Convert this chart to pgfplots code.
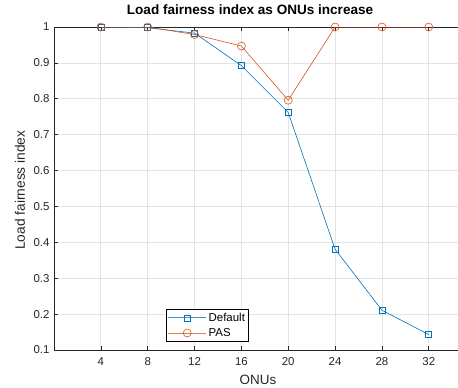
\documentclass[border=0pt]{standalone}
\usepackage{pgfplots}
\pgfplotsset{compat=1.18}
\usepackage{fontspec}
\setmainfont{Liberation Sans}
\definecolor{mblue}{rgb}{0,0.447,0.741}
\definecolor{morange}{rgb}{0.851,0.325,0.098}
\definecolor{axgray}{rgb}{0.15,0.15,0.15}
\begin{document}
\begin{tikzpicture}
\begin{axis}[
  at={(0,0)}, anchor=south west,
  scale only axis,
  width=421.6bp, height=323bp,
  xmin=0, xmax=36, ymin=0.1, ymax=1,
  xtick={4,8,12,16,20,24,28,32},
  ytick={0.1,0.2,0.3,0.4,0.5,0.6,0.7,0.8,0.9,1},
  yticklabels={0.1,0.2,0.3,0.4,0.5,0.6,0.7,0.8,0.9,1},
  /pgf/number format/assume math mode=true,
  tick label style={font=\fontsize{11.5}{13}\selectfont, text=axgray},
  xticklabel style={yshift=-4bp},
  yticklabel style={xshift=-1bp},
  tick align=inside, major tick length=4bp,
  tick style={axgray, line width=0.6bp},
  axis line style={axgray, line width=0.7bp},
  grid=major,
  major grid style={gray!22, line width=0.7bp},
  title={\bfseries Load fairness index as ONUs increase},
  title style={at={(axis description cs:0.465,1.034)}, anchor=center, font=\fontsize{13.6}{15}\selectfont},
  xlabel={ONUs},
  xlabel style={at={(axis description cs:0.484,-0.093)}, anchor=center, font=\fontsize{13.5}{15}\selectfont, text=axgray},
  ylabel={Load fairness index},
  ylabel style={at={(axis description cs:-0.0806,0.495)}, anchor=center, font=\fontsize{13.8}{15}\selectfont, text=axgray},
  legend style={at={(axis cs:9.56,0.1223)}, anchor=south west, draw=black, line width=0.6bp, fill=white,
    font=\fontsize{11.5}{12}\selectfont, inner xsep=1.5bp, inner ysep=2bp, row sep=1.5bp},
  legend cell align=left,
]
\addplot[color=mblue, line width=0.6bp, mark=square, mark size=3bp, mark options={solid},
  legend image code/.code={
    \draw[draw=mblue!75, line width=0.9bp] (0bp,0bp) -- (38bp,0bp);
    \draw[draw=mblue, line width=0.6bp] plot[mark=square, mark size=3bp] coordinates {(19bp,0bp)};
  }] coordinates {
(4,1.0) (8,0.998) (12,0.983) (16,0.8925) (20,0.762) (24,0.381) (28,0.211) (32,0.143)
};
\addlegendentry{Default}
\addplot[color=morange, line width=0.6bp, mark=o, mark size=4bp,
  legend image code/.code={
    \draw[draw=morange!75, line width=0.9bp] (0bp,0bp) -- (38bp,0bp);
    \draw[draw=morange, line width=0.6bp] plot[mark=o, mark size=4bp] coordinates {(19bp,0bp)};
  }] coordinates {
(4,1.0) (8,1.0) (12,0.979) (16,0.947) (20,0.796) (24,1.0) (28,1.0) (32,1.0)
};
\addlegendentry{PAS}
\end{axis}
\pgfresetboundingbox
\path[use as bounding box] (-54bp,-38bp) rectangle (404bp,350bp);
\end{tikzpicture}
\end{document}
